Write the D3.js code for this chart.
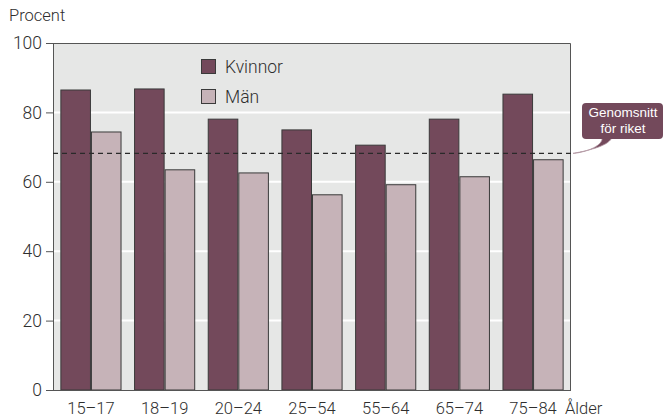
<!DOCTYPE html>
<html>
<head>
<meta charset="utf-8">
<script src="https://cdn.jsdelivr.net/npm/d3@7"></script>
<style>
  html, body { margin: 0; padding: 0; background: #fff; }
  svg text { font-family: Roboto, "Liberation Sans", sans-serif; font-weight: 300; fill: #2e2e2e; }
</style>
</head>
<body>
<svg id="chart" width="663" height="418"></svg>
<script>
// Andel per åldersgrupp, procent
const ageGroups = ["15–17", "18–19", "20–24", "25–54", "55–64", "65–74", "75–84"];
const women = [86.6, 86.9, 78.2, 75.1, 70.7, 78.2, 85.4];
const men = [74.5, 63.6, 62.7, 56.4, 59.3, 61.6, 66.5];
const seriesNames = ["Kvinnor", "Män"];
const nationalAverage = 68.2;
const yTicks = [0, 20, 40, 60, 80, 100];

const colors = { Kvinnor: "#73495b", "Män": "#c6b3b8" };

const svg = d3.select("#chart");
const margin = { left: 53, right: 92, top: 43, bottom: 28 };
const W = 663, H = 418;
const x0 = margin.left, x1 = W - margin.right;
const yTop = margin.top, yBot = H - margin.bottom;

const x = d3.scaleBand().domain(ageGroups).range([x0, x1]).paddingInner(0.17).paddingOuter(0.1);
const xs = d3.scaleBand().domain(seriesNames).range([0, x.bandwidth()]);
const y = d3.scaleLinear().domain([0, 100]).range([yBot, yTop]);

// plot background
svg.append("rect").attr("x", x0).attr("y", yTop).attr("width", x1 - x0).attr("height", yBot - yTop)
  .attr("fill", "#e6e7e6");

// white gridlines
svg.append("g").selectAll("line").data(yTicks.filter(t => t > 0 && t < 100)).join("line")
  .attr("x1", x0).attr("x2", x1)
  .attr("y1", d => y(d)).attr("y2", d => y(d))
  .attr("stroke", "#fff").attr("stroke-width", 2);

// bars
const rows = ageGroups.map((g, i) => ({ group: g, values: [
  { key: "Kvinnor", value: women[i] }, { key: "Män", value: men[i] }] }));
svg.append("g").selectAll("g").data(rows).join("g")
  .attr("transform", d => `translate(${x(d.group)},0)`)
  .selectAll("rect").data(d => d.values).join("rect")
  .attr("x", d => xs(d.key) + 0.5)
  .attr("y", d => y(d.value) + 0.5)
  .attr("width", xs.bandwidth() - 1)
  .attr("height", d => yBot - y(d.value) - 0.5)
  .attr("fill", d => colors[d.key])
  .attr("stroke", "#3a3a3a").attr("stroke-width", 1);

// frame (top and right)
svg.append("path")
  .attr("d", `M${x0},${yTop + 0.5}H${x1 - 0.5}V${yBot}`)
  .attr("fill", "none").attr("stroke", "#555").attr("stroke-width", 1);

// y axis
const yAxis = svg.append("g").attr("transform", `translate(${x0},0)`)
  .call(d3.axisLeft(y).tickValues(yTicks).tickSize(7).tickPadding(4));
yAxis.attr("font-family", null);
yAxis.select(".domain").attr("stroke", "#555");
yAxis.selectAll(".tick line").attr("stroke", "#555");
yAxis.selectAll(".tick text").style("font-size", "17.5px");

// x axis baseline
svg.append("line").attr("x1", x0 - 7).attr("x2", x1).attr("y1", yBot + 0.5).attr("y2", yBot + 0.5)
  .attr("stroke", "#555");

// x labels
svg.append("g").selectAll("text").data(ageGroups).join("text")
  .attr("x", d => x(d) + x.bandwidth() / 2)
  .attr("y", yBot + 23.5)
  .attr("text-anchor", "middle")
  .style("font-size", "16.5px")
  .text(d => d);
svg.append("text").attr("x", 565).attr("y", yBot + 23.5).style("font-size", "16.5px").text("Ålder");

// y title
svg.append("text").attr("x", 9).attr("y", 21).style("font-size", "16.5px").text("Procent");

// dashed average line
svg.append("line")
  .attr("x1", x0).attr("x2", x1 + 2)
  .attr("y1", y(nationalAverage)).attr("y2", y(nationalAverage))
  .attr("stroke", "#2a2a2a").attr("stroke-width", 1.2).attr("stroke-dasharray", "5,4");

// callout bubble
const avgY = y(nationalAverage);
const bx = 582, by = 103, bw = 81, bh = 36;
const callout = svg.append("g");
callout.append("path")
  .attr("d", `M${bx + 20},${by + bh - 2} C${bx + 22},${avgY - 6} ${bx - 2},${avgY} ${x1 + 2},${avgY}
              C${bx + 8},${avgY - 3} ${bx + 28},${avgY - 8} ${bx + 30},${by + bh - 2} Z`)
  .attr("fill", "#73495b").attr("stroke", "#b59aa6").attr("stroke-width", 0.8);
callout.append("rect").attr("x", bx).attr("y", by).attr("width", bw).attr("height", bh).attr("rx", 4)
  .attr("fill", "#73495b");
const calloutLines = ["Genomsnitt", "för riket"];
callout.selectAll("text").data(calloutLines).join("text")
  .attr("x", bx + 41).attr("y", (d, i) => by + 14 + i * 15.5)
  .attr("text-anchor", "middle")
  .style("font-family", "'Liberation Sans', sans-serif").style("font-weight", 400)
  .style("font-size", "13.5px").style("fill", "#fff")
  .text(d => d);

// legend
const legend = svg.append("g");
seriesNames.forEach((name, i) => {
  const ly = 59 + i * 30;
  legend.append("rect").attr("x", 201.5).attr("y", ly + 0.5).attr("width", 14).attr("height", 14)
    .attr("fill", colors[name]).attr("stroke", "#3a3a3a");
  legend.append("text").attr("x", 225).attr("y", ly + 14).style("font-size", "17.5px").text(name);
});
</script>
</body>
</html>
